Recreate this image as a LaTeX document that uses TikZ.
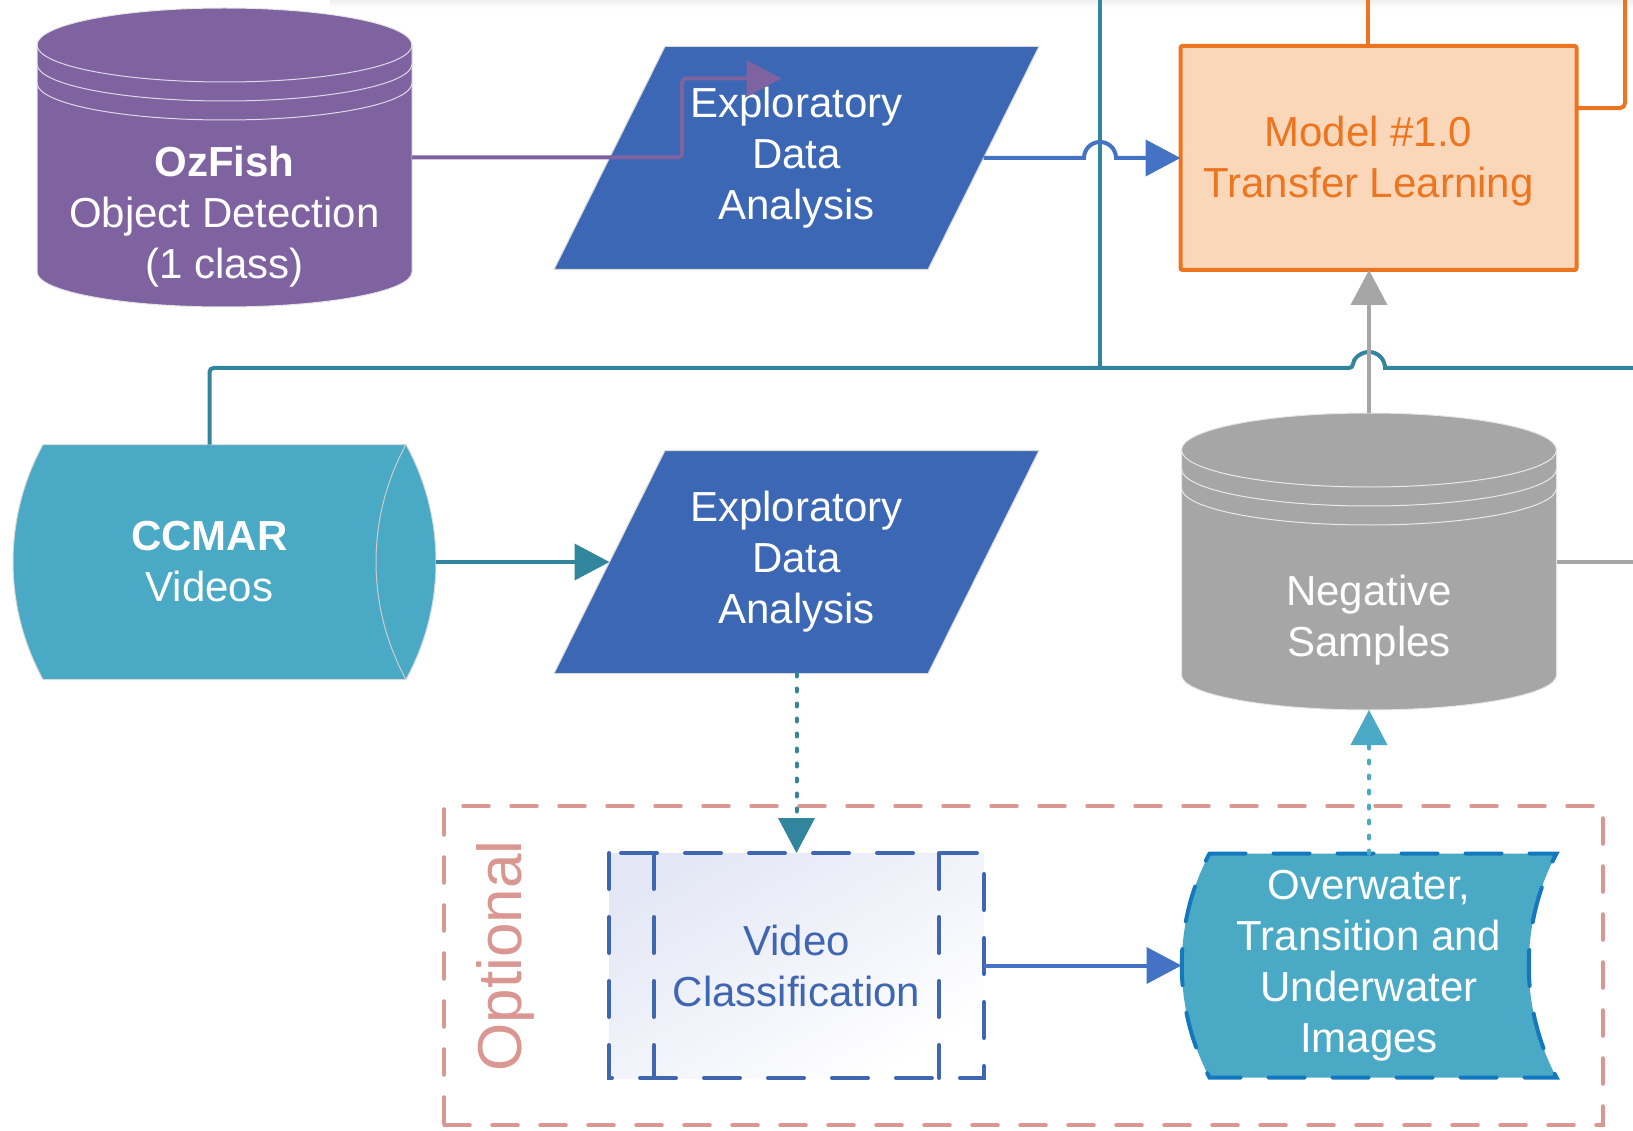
\documentclass[tikz,border=0pt]{standalone}
\usepackage{fontspec}
\setmainfont{Liberation Sans}
\usetikzlibrary{arrows.meta,calc,backgrounds}

\definecolor{ozpurple}{HTML}{7F63A0}
\definecolor{edablue}{HTML}{3B67B5}
\definecolor{linkblue}{HTML}{4472C4}
\definecolor{tealdark}{HTML}{31859C}
\definecolor{tealfill}{HTML}{4AAAC5}
\definecolor{modelorange}{HTML}{ED7520}
\definecolor{modelfill}{HTML}{FBD7BA}
\definecolor{neggray}{HTML}{A6A6A6}
\definecolor{optrose}{HTML}{DA9690}
\definecolor{vcblue}{HTML}{3F66B0}
\definecolor{vcfill}{HTML}{E4E7F5}
\definecolor{ovwdash}{HTML}{1478BE}

\tikzset{
  shapebox/.style={inner sep=0pt, outer sep=0pt},
  celltext/.style={text=white, align=center, font=\fontsize{42}{51}\selectfont},
  vctext/.style={celltext, text=vcblue},
  modeltext/.style={celltext, text=modelorange},
  modelbox/.style={shapebox, draw=modelorange, fill=modelfill, line width=4pt, rounded corners=2pt},
  flow/.style={line width=4pt},
  arrowtip/.style={-{Triangle[length=35pt,width=36pt]}},
  dotlink/.style={line width=4pt, line cap=round, dash pattern=on 3pt off 12pt},
  bigdash/.style={line width=4pt, line cap=round, dash pattern=on 36pt off 28pt},
  optbox/.style={shapebox, draw=optrose, line width=3.5pt, line cap=round, dash pattern=on 26pt off 22pt},
  band/.style={line width=1pt}
}

\begin{document}
\begin{tikzpicture}[x=1pt, y=-1pt]
  \useasboundingbox (0,0) rectangle (1633,1131);
  \shade[top color=black!6, bottom color=white] (330,0) rectangle (1633,9);

  \node[optbox, minimum width=1159pt, minimum height=319pt] (optional) at (1023.5,965.5) {};
  \node[text=optrose, font=\fontsize{62}{62}\selectfont, rotate=90, anchor=base] (optlabel) at (521,956) {Optional};

  \node[shapebox, minimum width=375pt, minimum height=299pt,
    label={[celltext, yshift=-59.5pt]center:{\textbf{OzFish}\\Object Detection\\(1 class)}}] (oz) at (224.5,157.5) {};
  \node[shapebox, celltext, minimum width=485pt, minimum height=223pt] (eda1) at (796.5,158) {Exploratory\\Data\\Analysis};
  \node[modelbox, minimum width=396pt, minimum height=224pt,
    label={[modeltext, xshift=-10pt, yshift=-3pt]center:{Model \#1.0\\Transfer Learning}}] (model) at (1378.5,158) {};
  \node[shapebox, celltext, minimum width=393pt, minimum height=235pt] (ccmar) at (209.5,562) {\textbf{CCMAR}\\Videos};
  \node[shapebox, celltext, minimum width=485pt, minimum height=223pt] (eda2) at (796.5,562) {Exploratory\\Data\\Analysis};
  \node[shapebox, minimum width=375pt, minimum height=297pt,
    label={[celltext, yshift=-59pt]center:{Negative\\Samples}}] (neg) at (1369,561.5) {};
  \node[shapebox, vctext, minimum width=375pt, minimum height=225pt] (vclass) at (796.5,965.5) {Video\\Classification};
  \node[shapebox, celltext, minimum width=375pt, minimum height=224pt] (ovw) at (1369,965.5) {Overwater,\\Transition and\\Underwater\\Images};

  \begin{scope}[on background layer]
    % data stores
    \foreach \db/\col in {oz/ozpurple, neg/neggray} {
      \fill[\col, draw=black!10, line width=1pt] ($(\db.north west)+(0,37)$)
        arc[start angle=180, end angle=360, x radius=187.5, y radius=37]
        -- ($(\db.south east)+(0,-35)$)
        arc[start angle=0, end angle=180, x radius=187.5, y radius=35] -- cycle;
      \foreach \dy in {37,56,75}
        \draw[band, white!75!\col] ($(\db.north west)+(0,\dy)$)
          arc[start angle=180, end angle=0, x radius=187.5, y radius=37];
    }
    \foreach \eda in {eda1,eda2}
      \fill[edablue, draw=black!15, line width=1pt] ($(\eda.north west)+(111,0)$) -- (\eda.north east)
        -- ($(\eda.south east)+(-111,0)$) -- (\eda.south west) -- cycle;
    % video store
    \fill[tealfill, draw=black!15, line width=1pt] ($(ccmar.north west)+(30,0)$) -- (ccmar.north east)
      .. controls ($(ccmar.north east)+(40,73)$) and ($(ccmar.south east)+(40,-73)$) .. (ccmar.south east)
      -- ($(ccmar.south west)+(30,0)$)
      .. controls ($(ccmar.south west)+(-10,-73)$) and ($(ccmar.north west)+(-10,73)$) .. ($(ccmar.north west)+(30,0)$) -- cycle;
    \draw[band, black!20!white] (ccmar.north east)
      .. controls ($(ccmar.north east)+(-40,73)$) and ($(ccmar.south east)+(-40,-73)$) .. (ccmar.south east);
    % optional steps
    \shade[top color=vcfill, bottom color=white, shading angle=30] (vclass.north west) rectangle (vclass.south east);
    \draw[bigdash, vcblue] (vclass.north west) rectangle (vclass.south east);
    \draw[bigdash, vcblue] ($(vclass.north west)+(45,0)$) -- ($(vclass.south west)+(45,0)$)
      ($(vclass.north east)+(-45,0)$) -- ($(vclass.south east)+(-45,0)$);
    \path[fill=tealfill, draw=ovwdash, bigdash] ($(ovw.north west)+(28,0)$) -- (ovw.north east)
      .. controls ($(ovw.north east)+(-37,70)$) and ($(ovw.south east)+(-37,-70)$) .. (ovw.south east)
      -- ($(ovw.south west)+(28,0)$)
      .. controls ($(ovw.south west)+(-9,-70)$) and ($(ovw.north west)+(-9,70)$) .. ($(ovw.north west)+(28,0)$) -- cycle;
  \end{scope}

  \coordinate (tealtop) at (1100,0);
  \coordinate (tealend) at (1633,368);
  \coordinate (grayend) at (1633,561.5);
  \coordinate (modelout) at (1368,0);
  \coordinate (modelloop) at (1625,0);

  \draw[flow, tealdark] (tealtop) -- (tealtop |- tealend);
  \draw[flow, tealdark] (ccmar.north) [rounded corners=4pt] |- ($(neg.north |- tealend)+(-16,0)$) [sharp corners]
    arc[start angle=180, end angle=360, radius=16] -- (tealend);
  \draw[flow, linkblue, arrowtip] ($(eda1.east)+(-55.5,0)$) -- ($(tealtop |- eda1.east)+(-16,0)$)
    arc[start angle=180, end angle=360, radius=16] -- (model.west);
  \draw[flow, ozpurple, arrowtip, rounded corners=4pt] (oz.east) -- ++(270,0) |- ($(eda1.north)+(-15,32)$);
  \draw[flow, tealdark, arrowtip] ($(ccmar.east)+(30,0)$) -- ($(eda2.west)+(55.5,0)$);
  \draw[dotlink, tealdark, arrowtip] (eda2.south) -- (vclass.north);
  \draw[flow, linkblue, arrowtip] (vclass.east) -- (ovw.west);
  \draw[dotlink, tealfill, arrowtip] (ovw.north) -- (neg.south);
  \draw[flow, neggray, arrowtip] (neg.north) -- (neg.north |- model.south);
  \draw[flow, neggray] (neg.east) -- (grayend);
  \draw[flow, modelorange] (modelout |- model.north) -- (modelout);
  \draw[flow, modelorange, rounded corners=5pt] ($(model.north east)!0.277!(model.south east)$) -| (modelloop);
\end{tikzpicture}
\end{document}
